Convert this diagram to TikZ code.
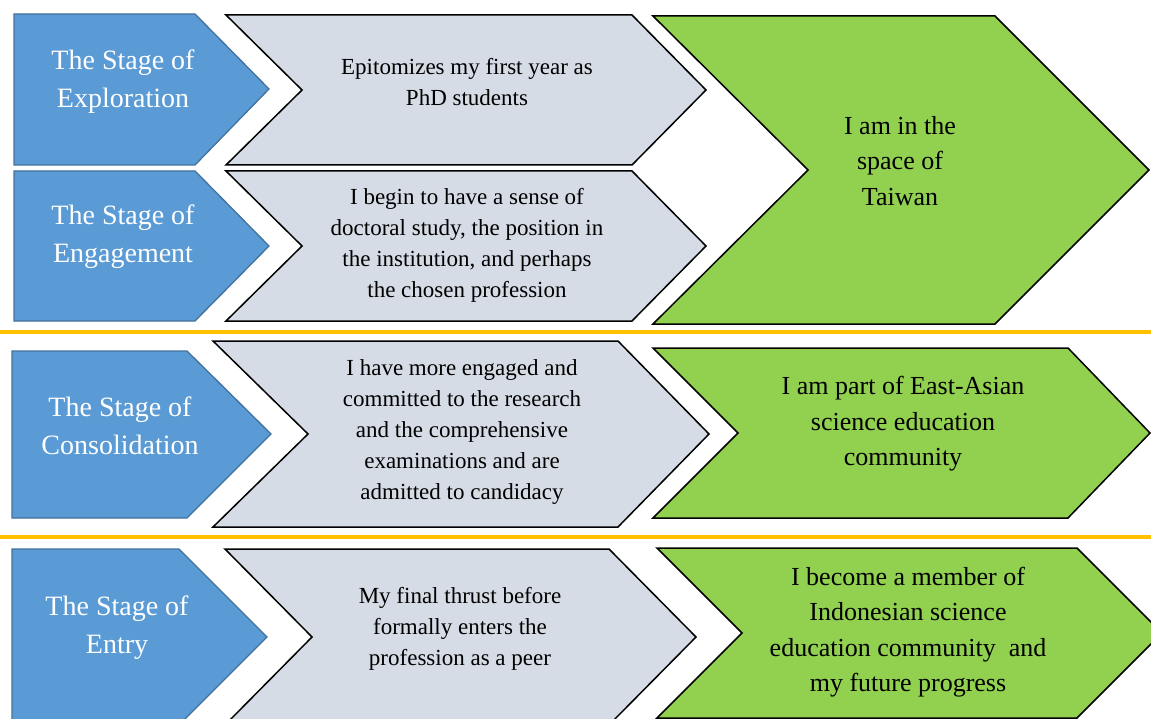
\documentclass[tikz,border=0pt]{standalone}
\usepackage{fontspec}
\setmainfont{Liberation Serif}

\definecolor{stageblue}{HTML}{5B9BD5}
\definecolor{stageedge}{HTML}{41719C}
\definecolor{detailgrey}{HTML}{D6DCE5}
\definecolor{resultgreen}{HTML}{92D050}
\definecolor{dividerorange}{HTML}{FFC000}

\tikzset{
  stagebox/.style={fill=stageblue, draw=stageedge, line width=1.3pt},
  detailbox/.style={fill=detailgrey, draw=black, line width=1.5pt},
  resultbox/.style={fill=resultgreen, draw=black, line width=1.5pt},
  stagetext/.style={text=white, align=center, inner sep=0pt, font=\fontsize{28}{38}\selectfont},
  detailtext/.style={align=center, inner sep=0pt, font=\fontsize{23}{31}\selectfont},
  resulttext/.style={align=center, inner sep=0pt, font=\fontsize{26}{35.5}\selectfont},
  divider/.style={draw=dividerorange, line width=4.5pt}
}

\begin{document}
\begin{tikzpicture}[x=1pt, y=-1pt]
    \useasboundingbox (0,0) rectangle (1151,719);
    \clip (0,0) rectangle (1151,719);

    % Exploration row
    \draw[stagebox] (14,14) -- (195,14) -- (269,89) -- (195,165) -- (14,165) -- cycle;
    \draw[detailbox] (226,15) -- (632,15) -- (706,90) -- (632,165) -- (226,165) -- (302,90) -- cycle;

    % Engagement row
    \draw[stagebox] (14,171) -- (195,171) -- (269,246) -- (195,321) -- (14,321) -- cycle;
    \draw[detailbox] (226,171) -- (632,171) -- (706,246) -- (632,321) -- (226,321) -- (302,246) -- cycle;

    % Shared outcome of the first two stages
    \draw[resultbox] (653,16) -- (995,16) -- (1149,170) -- (995,324) -- (653,324) -- (808,170) -- cycle;

    % Consolidation row
    \draw[stagebox] (12,351) -- (187,351) -- (271,434) -- (187,518) -- (12,518) -- cycle;
    \draw[detailbox] (213,341) -- (618,341) -- (709,434) -- (618,527) -- (213,527) -- (308,434) -- cycle;
    \draw[resultbox] (653,348) -- (1068,348) -- (1150,433) -- (1068,518) -- (653,518) -- (738,433) -- cycle;

    % Entry row
    \draw[stagebox] (12,549) -- (179,549) -- (267,637) -- (179,725) -- (12,725) -- cycle;
    \draw[detailbox] (225,549) -- (609,549) -- (696,637) -- (609,725) -- (225,725) -- (312,637) -- cycle;
    \draw[resultbox] (657,548) -- (1077,548) -- (1162,633) -- (1077,718) -- (657,718) -- (742,633) -- cycle;

    % Dividers
    \draw[divider] (0,332) -- (1151,332);
    \draw[divider] (0,537) -- (1151,537);

    % Stage names
    \node[stagetext] (exploration) at (123,82) {The Stage of\\Exploration};
    \node[stagetext] (engagement) at (123,237) {The Stage of\\Engagement};
    \node[stagetext] (consolidation) at (120,426) {The Stage of\\Consolidation};
    \node[stagetext] (entry) at (117,628) {The Stage of\\Entry};

    % Descriptions
    \node[detailtext] (firstyear) at (467,82) {Epitomizes my first year as\\PhD students};
    \node[detailtext] (sense) at (467,245) {I begin to have a sense of\\doctoral study, the position in\\the institution, and perhaps\\the chosen profession};
    \node[detailtext] (committed) at (462,432) {I have more engaged and\\committed to the research\\and the comprehensive\\examinations and are\\admitted to candidacy};
    \node[detailtext] (thrust) at (460,629) {My final thrust before\\formally enters the\\profession as a peer};

    % Outcomes
    \node[resulttext] (taiwan) at (900,161) {I am in the\\space of\\Taiwan};
    \node[resulttext] (eastasian) at (903,424) {I am part of East-Asian\\science education\\community};
    \node[resulttext] (indonesian) at (908,632) {I become a member of\\Indonesian science\\education community~ and\\my future progress};
\end{tikzpicture}
\end{document}
